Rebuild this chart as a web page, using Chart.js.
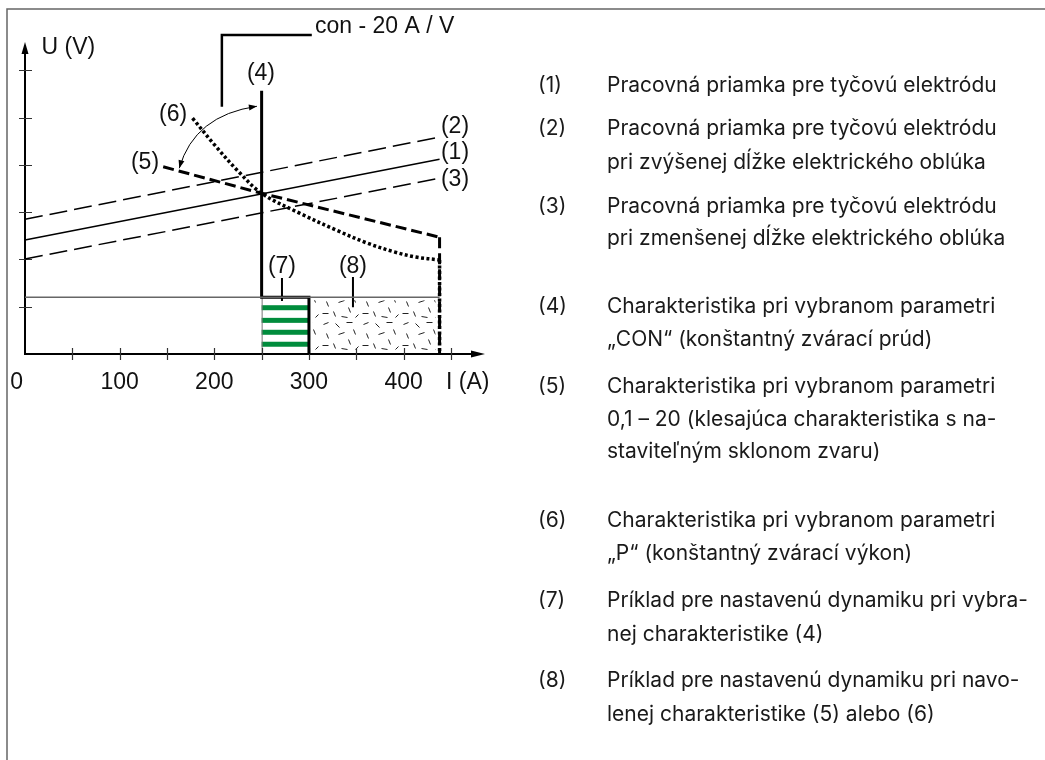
<!DOCTYPE html>
<html>
<head>
<meta charset="utf-8">
<script src="https://cdn.jsdelivr.net/npm/chart.js@4.4.1/dist/chart.umd.min.js"></script>
<style>
  html, body { margin: 0; padding: 0; background: #fff; }
  canvas { display: block; }
</style>
</head>
<body>
<canvas id="chart" width="1045" height="760"></canvas>
<script>
// Axis ticks: current I (A) and voltage U (V)
const currentTickValues = [50, 100, 150, 200, 250, 300, 350, 400, 450];
const currentTickLabels = [0, 100, 200, 300, 400];
const voltageTickValues = [10, 20, 30, 40, 50, 60];

// Working lines of the rod electrode: (1) normal, (2) longer arc, (3) shorter arc
const workLine      = [[0, 24.1], [438, 41.2]];
const workLineLong  = [[0, 28.5], [438, 45.9]];
const workLineShort = [[0, 20.1], [438, 37.2]];

// (4) CON characteristic, (5) drooping characteristic, (6) constant power
const conCurve    = [[250, 55.7], [250, 12], [300, 12], [300, 0]];
const droopCurve  = [[146, 39.6], [250, 34], [438, 24.7]];
const droopDrop   = [[438, 24.7], [438, 0]];
const powerCurve  = [[177, 49.9], [200, 44.3], [225, 38.7], [250, 34], [290, 29.8],
                     [330, 26.1], [361, 23.5], [390, 21.6], [413, 20.5], [438, 19.9]];
const powerDrop   = [[438, 19.9], [438, 0]];

// Dynamic ranges (7) and (8)
const dynamicsLevel      = [[0, 12], [438, 12]];
const conDynamicsRange   = [250, 300];
const curveDynamicsRange = [300, 438];
const dynamicsVoltage    = 12;

// Annotation geometry in (I, U)
const slopeArc  = [[163, 39.3], [179, 50.5], [245, 52.4]];
const conLeader = [[208, 52.3], [208, 67.5], [303, 67.5]];
const leader7   = [[271.5, 16.1], [271.5, 11.2]];
const leader8   = [[346.5, 16.3], [346.5, 9.9]];

const curveLabels = [
  { text: '(4)', at: [249.3, 59.2] },
  { text: '(6)', at: [156.4, 50.6] },
  { text: '(5)', at: [126.8, 40.4] },
  { text: '(2)', at: [454.3, 48.0] },
  { text: '(1)', at: [454.3, 42.5] },
  { text: '(3)', at: [454.3, 36.8] },
  { text: '(7)', at: [271.5, 18.4] },
  { text: '(8)', at: [346.5, 18.4] }
];
const conCaption = { text: 'con - 20 A / V', at: [306.4, 69.2] };
const yAxisTitle = { text: 'U (V)', at: [17.5, 64.9] };
const xAxisTitle = { text: 'I (A)', at: [444.8, -6.1] };

// Description list
const legendKeys = ['(1)', '(2)', '(3)', '(4)', '(5)', '(6)', '(7)', '(8)'];
const legendTexts = [
  ['Pracovná priamka pre tyčovú elektródu'],
  ['Pracovná priamka pre tyčovú elektródu', 'pri zvýšenej dĺžke elektrického oblúka'],
  ['Pracovná priamka pre tyčovú elektródu', 'pri zmenšenej dĺžke elektrického oblúka'],
  ['Charakteristika pri vybranom parametri', '„CON“ (konštantný zvárací prúd)'],
  ['Charakteristika pri vybranom parametri', '0,1 – 20 (klesajúca charakteristika s na-', 'staviteľným sklonom zvaru)'],
  ['Charakteristika pri vybranom parametri', '„P“ (konštantný zvárací výkon)'],
  ['Príklad pre nastavenú dynamiku pri vybra-', 'nej charakteristike (4)'],
  ['Príklad pre nastavenú dynamiku pri navo-', 'lenej charakteristike (5) alebo (6)']
];

const layout = {
  legendKeyX: 538,
  legendTextX: 607,
  legendRowY: [[86], [129, 163], [207, 239], [307, 340], [387, 420, 452], [521, 554], [601, 635], [681, 715]]
};

const chartFont = "'Liberation Sans', Arial, Helvetica, sans-serif";
const legendFont = "Inter, 'Noto Sans', sans-serif";
const green = '#008c3c';

const pts = arr => arr.map(([x, y]) => ({ x, y }));

function line(data, opts) {
  return Object.assign({
    data: pts(data), showLine: true, pointRadius: 0, fill: false,
    borderColor: '#000', borderWidth: 1.5, tension: 0, clip: false,
    borderCapStyle: 'butt', borderJoinStyle: 'miter'
  }, opts);
}

// Short strokes used as the texture of range (8)
function speckPattern(ctx) {
  const tile = document.createElement('canvas');
  tile.width = 40; tile.height = 32;
  const t = tile.getContext('2d');
  t.strokeStyle = '#222'; t.lineWidth = 1;
  const strokes = [[3,4,8,2],[15,3,19,7],[26,2,32,2],[33,9,35,14],[6,13,8,18],[18,14,24,12],
                   [28,19,30,24],[2,25,8,25],[13,23,15,28],[21,28,27,29],[35,29,38,26]];
  strokes.forEach(([a, b, c, d]) => { t.beginPath(); t.moveTo(a + .5, b + .5); t.lineTo(c + .5, d + .5); t.stroke(); });
  return ctx.createPattern(tile, 'repeat');
}

function arrowHead(ctx, tipX, tipY, angle, len, half) {
  ctx.save();
  ctx.translate(tipX, tipY);
  ctx.rotate(angle);
  ctx.beginPath();
  ctx.moveTo(0, 0);
  ctx.lineTo(-len, -half);
  ctx.lineTo(-len, half);
  ctx.closePath();
  ctx.fill();
  ctx.restore();
}

const diagramPlugin = {
  id: 'diagram',
  beforeDatasetsDraw(chart) {
    const { ctx, chartArea: area, scales: { x, y } } = chart;
    ctx.save();

    // page frame
    ctx.strokeStyle = '#666';
    ctx.lineWidth = 1.5;
    ctx.beginPath();
    ctx.moveTo(7, chart.height);
    ctx.lineTo(7, 9);
    ctx.lineTo(chart.width, 9);
    ctx.stroke();

    const top = y.getPixelForValue(dynamicsVoltage);
    const bottom = y.getPixelForValue(0);

    // (7) striped block
    const l7 = x.getPixelForValue(conDynamicsRange[0]);
    const r7 = x.getPixelForValue(conDynamicsRange[1]);
    const h = bottom - top;
    ctx.fillStyle = green;
    [0.184, 0.407, 0.617, 0.828].forEach(f => {
      ctx.fillRect(l7, top + f * h - 2.5, r7 - l7, 5);
    });
    ctx.strokeStyle = '#777';
    ctx.lineWidth = 1;
    ctx.beginPath();
    ctx.moveTo(l7 + .5, top); ctx.lineTo(l7 + .5, bottom);
    ctx.stroke();

    // (8) speckled block
    const l8 = x.getPixelForValue(curveDynamicsRange[0]);
    const r8 = x.getPixelForValue(curveDynamicsRange[1]);
    ctx.fillStyle = speckPattern(ctx);
    ctx.fillRect(l8 + 4, top + 3, r8 - l8 - 8, h - 4);

    // axes
    const x0 = x.getPixelForValue(0);
    ctx.strokeStyle = '#000';
    ctx.fillStyle = '#000';
    ctx.lineWidth = 2;
    ctx.beginPath();
    ctx.moveTo(x0, area.top + 6);
    ctx.lineTo(x0, bottom);
    ctx.lineTo(area.right - 6, bottom);
    ctx.stroke();
    arrowHead(ctx, x0, area.top, -Math.PI / 2, 12, 3.5);
    arrowHead(ctx, area.right, bottom, 0, 14, 3.5);

    // tick marks
    ctx.strokeStyle = '#333';
    ctx.lineWidth = 1.2;
    ctx.beginPath();
    currentTickValues.forEach(v => {
      const px = Math.round(x.getPixelForValue(v)) + .5;
      ctx.moveTo(px, bottom - 6); ctx.lineTo(px, bottom + 6);
    });
    voltageTickValues.forEach(v => {
      const py = Math.round(y.getPixelForValue(v)) + .5;
      ctx.moveTo(x0 - 6, py); ctx.lineTo(x0 + 7, py);
    });
    ctx.stroke();
    ctx.restore();
  },
  afterDatasetsDraw(chart) {
    const { ctx, scales: { x, y } } = chart;
    ctx.save();

    // double arrow between (5) and (4)
    const [p0, c, p2] = slopeArc.map(([i, u]) => [x.getPixelForValue(i), y.getPixelForValue(u)]);
    ctx.strokeStyle = '#000';
    ctx.fillStyle = '#000';
    ctx.lineWidth = 1;
    ctx.beginPath();
    ctx.moveTo(p0[0], p0[1]);
    ctx.quadraticCurveTo(c[0], c[1], p2[0], p2[1]);
    ctx.stroke();
    arrowHead(ctx, p0[0], p0[1], Math.atan2(p0[1] - c[1], p0[0] - c[0]), 8, 3);
    arrowHead(ctx, p2[0], p2[1], Math.atan2(p2[1] - c[1], p2[0] - c[0]), 8, 3);

    // chart texts
    ctx.font = '23px ' + chartFont;
    ctx.fillStyle = '#111';
    ctx.textBaseline = 'middle';
    ctx.textAlign = 'center';
    curveLabels.forEach(l => ctx.fillText(l.text, x.getPixelForValue(l.at[0]), y.getPixelForValue(l.at[1])));

    ctx.textAlign = 'left';
    [conCaption, yAxisTitle, xAxisTitle].forEach(l =>
      ctx.fillText(l.text, x.getPixelForValue(l.at[0]), y.getPixelForValue(l.at[1])));

    const labelY = y.getPixelForValue(xAxisTitle.at[1]);
    currentTickLabels.forEach(v => {
      const px = x.getPixelForValue(v);
      if (v === 0) { ctx.textAlign = 'right'; ctx.fillText(String(v), px - 2, labelY); }
      else { ctx.textAlign = 'center'; ctx.fillText(String(v), px, labelY); }
    });

    // description list
    ctx.font = '21px ' + legendFont;
    ctx.fillStyle = '#1a1a1a';
    ctx.textAlign = 'left';
    legendKeys.forEach((k, i) => {
      const rows = layout.legendRowY[i];
      ctx.fillText(k, layout.legendKeyX, rows[0]);
      legendTexts[i].forEach((t, j) => ctx.fillText(t, layout.legendTextX, rows[j]));
    });
    ctx.restore();
  }
};

new Chart(document.getElementById('chart'), {
  type: 'scatter',
  data: {
    datasets: [
      line(dynamicsLevel, { borderColor: '#666', borderWidth: 1.3 }),
      line(workLine, { borderWidth: 1.5 }),
      line(workLineLong, { borderWidth: 1.5, borderDash: [18, 7] }),
      line(workLineShort, { borderWidth: 1.5, borderDash: [18, 7] }),
      line(powerCurve, { borderWidth: 3.5, borderDash: [3, 2.5], tension: 0.35 }),
      line(powerDrop, { borderWidth: 3.5, borderDash: [3, 2.5] }),
      line(droopCurve, { borderWidth: 3, borderDash: [11, 5] }),
      line(droopDrop, { borderWidth: 3, borderDash: [11, 5] }),
      line(conCurve, { borderWidth: 3 }),
      line(conLeader, { borderWidth: 2.5 }),
      line(leader7, { borderWidth: 2 }),
      line(leader8, { borderWidth: 2 })
    ]
  },
  options: {
    responsive: false,
    animation: false,
    devicePixelRatio: 1,
    layout: { padding: { left: 25, right: 560, top: 42, bottom: 406 } },
    scales: {
      x: { type: 'linear', min: 0, max: 486, display: false },
      y: { type: 'linear', min: 0, max: 66, display: false }
    },
    plugins: { legend: { display: false }, tooltip: { enabled: false } },
    events: []
  },
  plugins: [diagramPlugin]
});
</script>
</body>
</html>
